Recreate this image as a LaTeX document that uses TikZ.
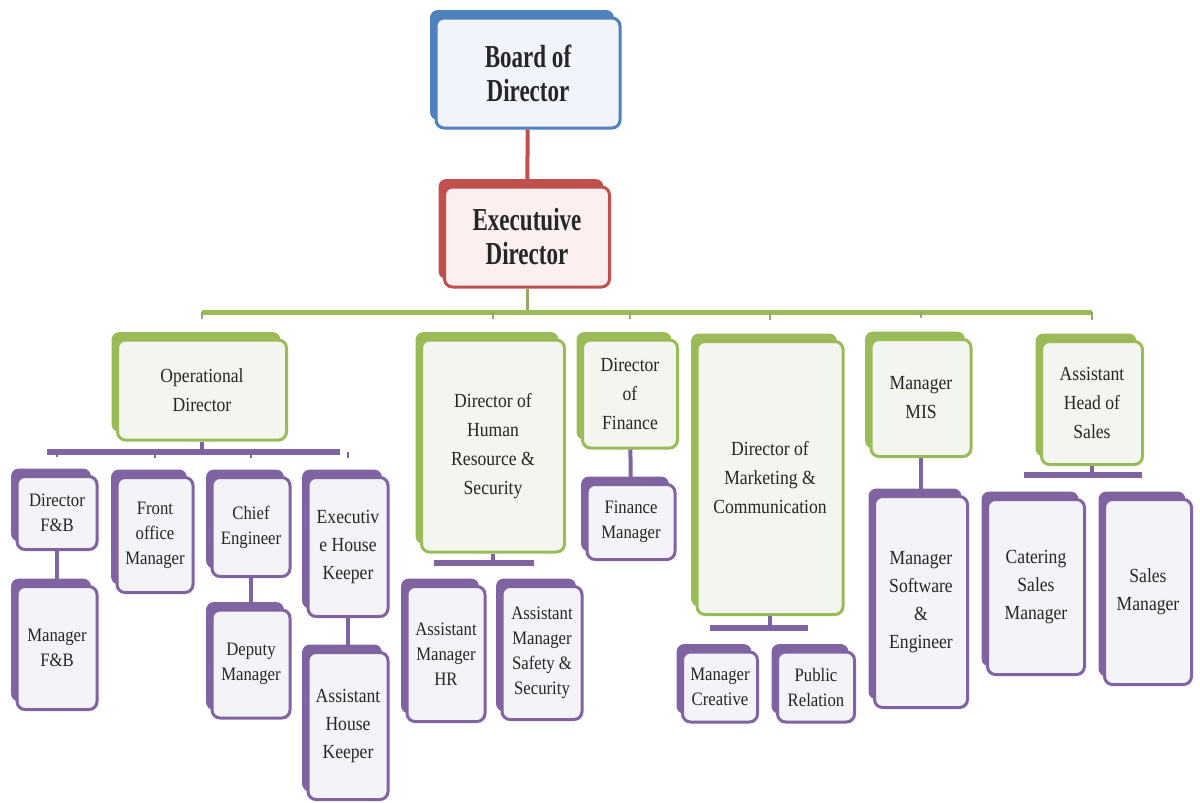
\documentclass[tikz,border=0pt]{standalone}
\usepackage{fontspec}
\setmainfont{Liberation Serif}[FakeStretch=0.88]
\newfontfamily\titlefont{Liberation Serif}[FakeStretch=0.72]
\usetikzlibrary{shadows}

\definecolor{bdblue}{HTML}{4F81BD}
\definecolor{bdfill}{HTML}{F1F5FB}
\definecolor{edred}{HTML}{C0504D}
\definecolor{edfill}{HTML}{FBEFEF}
\definecolor{lvgreen}{HTML}{9BBB59}
\definecolor{lvgfill}{HTML}{F3F5EF}
\definecolor{lvpurple}{HTML}{8064A2}
\definecolor{lvpfill}{HTML}{F4F3F7}

\tikzset{wh/.style 2 args={minimum width=#1*0.5pt,minimum height=#2*0.5pt}}

\begin{document}
\begin{tikzpicture}[x=0.5pt,y=-0.5pt,semithick]
	\tikzstyle{box}=[rectangle,rounded corners=4pt,line width=1.5pt,align=center,inner sep=1pt,text=black!85]
	\tikzstyle{topbox}=[box,font=\titlefont\bfseries\fontsize{16}{17}\selectfont]
	\tikzstyle{bdbox}=[topbox,draw=bdblue,fill=bdfill,general shadow={fill=bdblue,shadow xshift=-3pt,shadow yshift=4pt}]
	\tikzstyle{edbox}=[topbox,draw=edred,fill=edfill,general shadow={fill=edred,shadow xshift=-3pt,shadow yshift=4pt}]
	\tikzstyle{gbox}=[box,draw=lvgreen,fill=lvgfill,general shadow={fill=lvgreen,shadow xshift=-3pt,shadow yshift=4pt},font=\fontsize{10}{14.5}\selectfont]
	\tikzstyle{pbox}=[box,draw=lvpurple,fill=lvpfill,general shadow={fill=lvpurple,shadow xshift=-3pt,shadow yshift=4pt},font=\fontsize{9.5}{12.5}\selectfont]
	\tikzstyle{pboxl}=[pbox,font=\fontsize{10}{14}\selectfont]
	\tikzstyle{rline}=[draw=edred,line width=2pt]
	\tikzstyle{gline}=[draw=lvgreen,line width=2.5pt]
	\tikzstyle{gstem}=[draw=lvgreen!70!gray,line width=1.5pt]
	\tikzstyle{gtick}=[draw=lvgreen!70!gray,line width=1pt,shorten >=10pt]
	\tikzstyle{pline}=[draw=lvpurple,line width=2pt]
	\tikzstyle{pbar}=[draw=lvpurple,line width=3pt]
	\tikzstyle{ptick}=[draw=lvpurple,line width=1pt,shorten >=9pt]

	\useasboundingbox (0,0) rectangle (1200,803);

	% top of the chart
	\node[bdbox,wh={184}{110}] (bd) at (528,73) {Board of\\Director};
	\node[edbox,wh={165}{100}] (ed) at (527,237) {Executuive\\Director};

	% directors
	\node[gbox,wh={169}{100}] (od) at (202,390) {Operational\\Director};
	\node[gbox,wh={143}{212}] (hr) at (493,446) {Director of\\Human\\Resource \&\\Security};
	\node[gbox,wh={95}{108}] (df) at (630,394) {Director\\of\\Finance};
	\node[gbox,wh={146}{273}] (dm) at (770,478) {Director of\\Marketing \&\\Communication};
	\node[gbox,wh={100}{117}] (mis) at (921,398) {Manager\\MIS};
	\node[gbox,wh={101}{123}] (hs) at (1092,403) {Assistant\\Head of\\Sales};

	% operational staff
	\node[pbox,wh={80}{73}] (dfb) at (57,513) {Director\\F\&B};
	\node[pbox,wh={80}{123}] (mfb) at (57,648) {Manager\\F\&B};
	\node[pbox,wh={76}{115}] (fom) at (155,535) {Front\\office\\Manager};
	\node[pbox,wh={78}{99}] (ce) at (251,527) {Chief\\Engineer};
	\node[pbox,wh={78}{108}] (dpm) at (251,664) {Deputy\\Manager};
	\node[pboxl,wh={80}{139}] (ehk) at (348,547) {Executiv\\e House\\Keeper};
	\node[pboxl,wh={80}{147}] (ahk) at (348,726) {Assistant\\House\\Keeper};

	% other departments
	\node[pbox,wh={78}{135}] (amhr) at (446,654) {Assistant\\Manager\\HR};
	\node[pbox,wh={80}{133}] (ams) at (542,653) {Assistant\\Manager\\Safety \&\\Security};
	\node[pbox,wh={88}{75}] (fm) at (631,522) {Finance\\Manager};
	\node[pbox,wh={75}{70}] (mc) at (720,687) {Manager\\Creative};
	\node[pbox,wh={77}{70}] (pr) at (816,687) {Public\\Relation};
	\node[pboxl,wh={93}{211}] (mse) at (921,602) {Manager\\Software\\\&\\Engineer};
	\node[pboxl,wh={97}{175}] (csm) at (1036,587) {Catering\\Sales\\Manager};
	\node[pboxl,wh={87}{185}] (sm) at (1148,592) {Sales\\Manager};

	% connectors
	\draw[rline] (bd) -- (ed);
	\coordinate (gb) at (517,312);
	\draw[gstem] (ed) -- (ed |- gb);
	\draw[gline] (od |- gb) -- (hs |- gb);
	\foreach \n in {od,hr,df,dm,mis,hs}
		\draw[gtick] (\n |- gb) -- (\n);

	\coordinate (ob) at (200,452);
	\draw[pline] (od) -- (od |- ob);
	\draw[pbar] ([xshift=-5pt]dfb |- ob) -- ([xshift=-4pt]ehk |- ob);
	\foreach \n in {dfb,fom,ce,ehk}
		\draw[ptick] (\n |- ob) -- (\n);

	\coordinate (hb) at (490,563);
	\draw[pline] (hr) -- (hr |- hb);
	\draw[pbar] ([xshift=-6pt]amhr |- hb) -- ([xshift=-4pt]ams |- hb);

	\coordinate (mb) at (770,628);
	\draw[pline] (dm) -- (dm |- mb);
	\draw[pbar] ([xshift=-5pt]mc |- mb) -- ([xshift=-4pt]pr |- mb);

	\coordinate (sb) at (1092,475);
	\draw[pline] (hs) -- (hs |- sb);
	\draw[pbar] ([xshift=-6pt]csm |- sb) -- ([xshift=-3pt]sm |- sb);

	\draw[pline] (dfb) -- (mfb);
	\draw[pline] (ce) -- (dpm);
	\draw[pline] (ehk) -- (ahk);
	\draw[pline] (df) -- (fm);
	\draw[pline] (mis) -- (mse);
\end{tikzpicture}
\end{document}
